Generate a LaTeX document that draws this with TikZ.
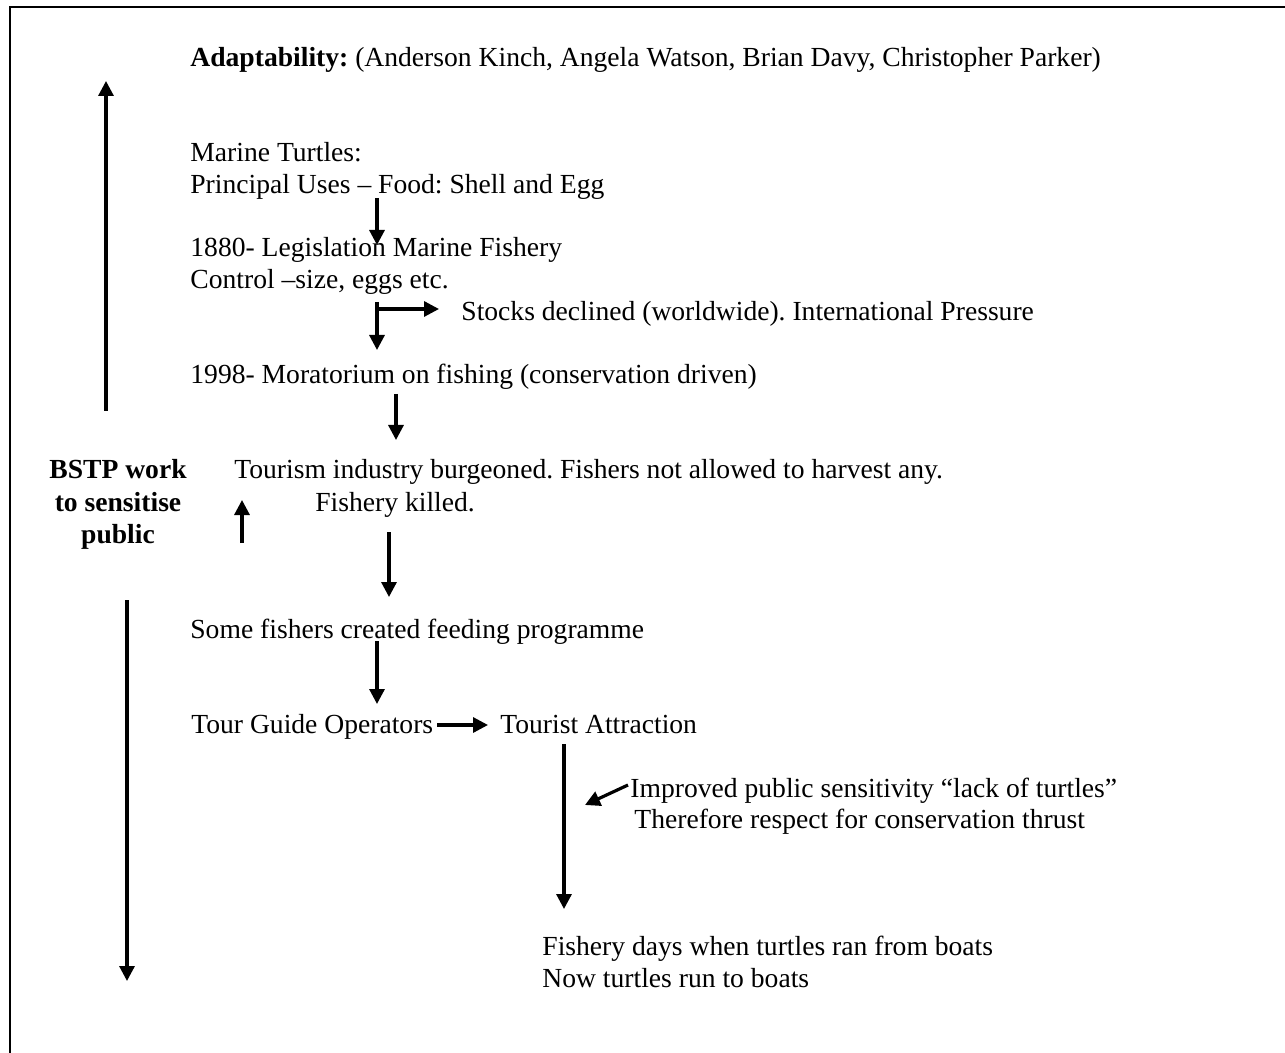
\documentclass[tikz,border=0pt]{standalone}
\usepackage{fontspec}
\setmainfont{Liberation Serif}
\usetikzlibrary{arrows.meta}
\frenchspacing
\begin{document}
\begin{tikzpicture}[x=0.5pt,y=-0.5pt,
  txt/.style={anchor=base west, inner sep=0pt, font=\fontsize{13.8}{16}\selectfont},
  ctxt/.style={anchor=base, inner sep=0pt, font=\fontsize{13.8}{16}\selectfont\bfseries},
  arr/.style={line width=1.6pt, -{Triangle[length=7.5pt,width=7.5pt]}},
  frame/.style={line width=1.1pt}]
\useasboundingbox (0,0) rectangle (1285,1053);
% frame (cropped at right and bottom)
\coordinate (fbl) at (10,1053);
\coordinate (ftl) at (10,7);
\coordinate (ftr) at (1285,7);
\draw[frame] (fbl) -- (ftl) -- (ftr);

% texts
\node[txt] (adapt) at (190,67) {\textbf{Adaptability:} (Anderson Kinch, Angela Watson, Brian Davy, Christopher Parker)};
\node[txt] (mt1) at (190,162) {Marine Turtles:};
\node[txt] (mt2) at (190,194) {Principal Uses – Food: Shell and Egg};
\node[txt] (leg1) at (190,257) {1880- Legislation Marine Fishery};
\node[txt] (leg2) at (190,289) {Control –size, eggs etc.};
\node[txt] (stocks) at (461,321) {Stocks declined (worldwide). International Pressure};
\node[txt] (mor) at (190,384) {1998- Moratorium on fishing (conservation driven)};
\node[ctxt] (b1) at (118,479) {BSTP work};
\node[ctxt] (b2) at (118,511) {to sensitise};
\node[ctxt] (b3) at (118,543) {public};
\node[txt] (tour1) at (234,479) {Tourism industry burgeoned. Fishers not allowed to harvest any.};
\node[txt] (tour2) at (315,511) {Fishery killed.};
\node[txt] (some) at (190,638) {Some fishers created feeding programme};
\node[txt] (guide) at (191,733) {Tour Guide Operators};
\node[txt] (attr) at (500,733) {Tourist Attraction};
\node[txt] (imp) at (630,797) {Improved public sensitivity “lack of turtles”};
\node[txt] (ther) at (634,828) {Therefore respect for conservation thrust};
\node[txt] (fd1) at (542,955) {Fishery days when turtles ran from boats};
\node[txt] (fd2) at (542,987) {Now turtles run to boats};

% arrow end points
\coordinate (upS) at (106,411);  \coordinate (upE) at (106,81);
\coordinate (dnS) at (127,600);  \coordinate (dnE) at (127,981);
\coordinate (a1S) at (377,198);  \coordinate (a1E) at (377,245);
\coordinate (a2S) at (377,302);  \coordinate (a2E) at (377,350);
\coordinate (a2B) at (377,309);  \coordinate (a2H) at (439,309);
\coordinate (a3S) at (396,394);  \coordinate (a3E) at (396,440);
\coordinate (a4S) at (242,543);  \coordinate (a4E) at (242,500);
\coordinate (a5S) at (389,532);  \coordinate (a5E) at (389,597);
\coordinate (a6S) at (377,641);  \coordinate (a6E) at (377,704);
\coordinate (a7S) at (437,725);  \coordinate (a7E) at (488,725);
\coordinate (a8S) at (564,744);  \coordinate (a8E) at (564,909);
\coordinate (a9S) at (628,785);  \coordinate (a9E) at (585,805);

\draw[arr] (upS) -- (upE);
\draw[arr] (dnS) -- (dnE);
\draw[arr] (a1S) -- (a1E);
\draw[arr] (a2S) -- (a2E);
\draw[arr] (a2B) -- (a2H);
\draw[arr] (a3S) -- (a3E);
\draw[arr] (a4S) -- (a4E);
\draw[arr] (a5S) -- (a5E);
\draw[arr] (a6S) -- (a6E);
\draw[arr] (a7S) -- (a7E);
\draw[arr] (a8S) -- (a8E);
\draw[arr] (a9S) -- (a9E);
\end{tikzpicture}
\end{document}
